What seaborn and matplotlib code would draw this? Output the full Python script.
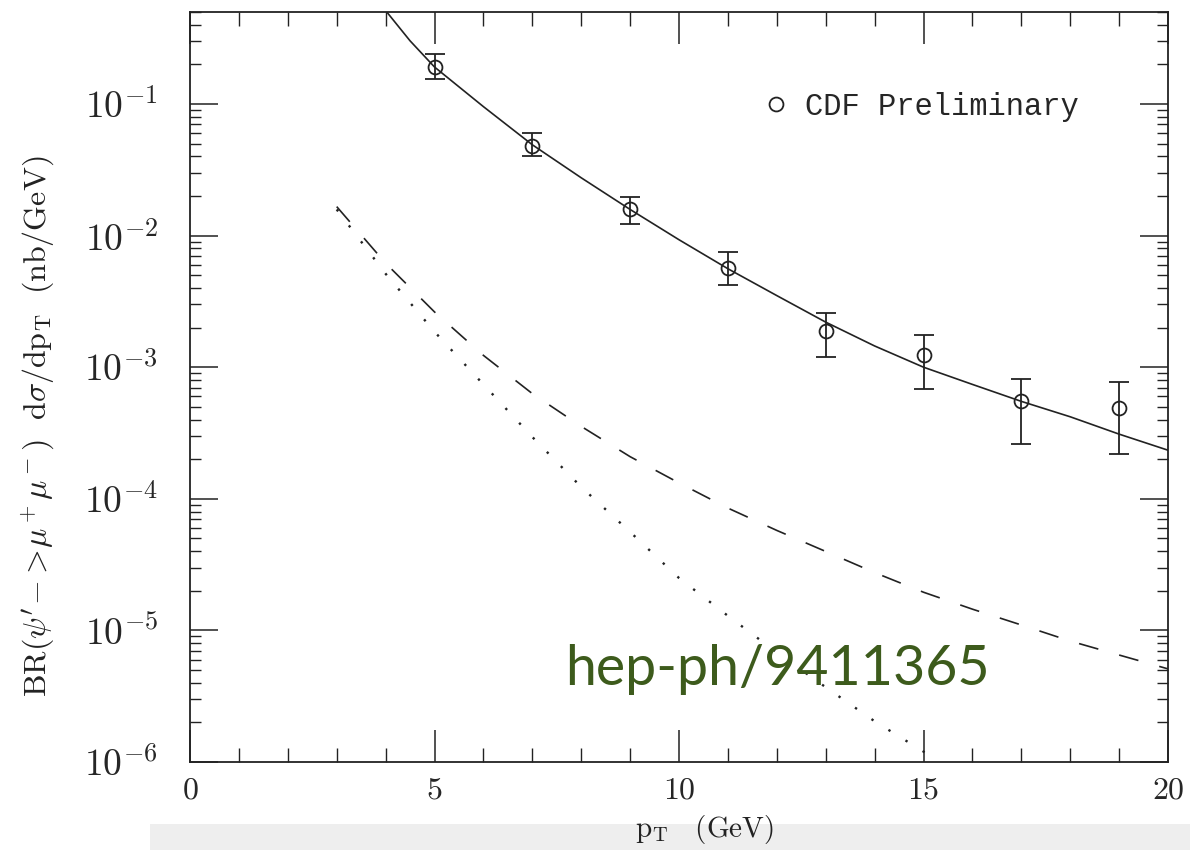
import numpy as np
import pandas as pd
import matplotlib
matplotlib.use("Agg")
import matplotlib.pyplot as plt
import seaborn as sns
from matplotlib.ticker import MultipleLocator, LogLocator, FuncFormatter, NullFormatter
from matplotlib.lines import Line2D
from matplotlib.patches import Rectangle

# ---------------- data ----------------
pt_data = [5, 7, 9, 11, 13, 15, 17, 19]
sigma_data = [0.19, 0.048, 0.0158, 0.0057, 0.0019, 0.00123, 0.00055, 0.00049]
sigma_hi = [0.24, 0.060, 0.0196, 0.0075, 0.0026, 0.00175, 0.00081, 0.00077]
sigma_lo = [0.155, 0.040, 0.0122, 0.0042, 0.00119, 0.00068, 0.00026, 0.00022]

solid_pt = [3.9, 4.0, 4.5, 5, 6, 7, 8, 9, 10, 11, 12, 13, 14, 15, 16, 17, 18, 19, 20]
solid_val = [0.62, 0.513, 0.302, 0.191, 0.0955, 0.049, 0.0275, 0.0158, 0.0093, 0.0056,
             0.0035, 0.0022, 0.00145, 0.00100, 0.00074, 0.00055, 0.00042, 0.00031, 0.000234]

dashed_pt = [3, 4, 5, 6, 7, 8, 9, 10, 11, 12, 13, 14, 15, 16, 17, 18, 19, 20]
dashed_val = [0.0166, 0.00617, 0.00263, 0.00123, 0.00063, 0.000355, 0.000209, 0.000132,
              8.5e-5, 5.75e-5, 3.98e-5, 2.75e-5, 1.95e-5, 1.45e-5, 1.10e-5, 8.3e-6, 6.5e-6, 5.1e-6]

dotted_pt = [3, 4, 5, 6, 7, 8, 9, 10, 11, 12, 13, 14, 15, 15.3]
dotted_val = [0.0158, 0.00513, 0.00186, 0.00074, 0.000295, 0.000123, 5.6e-5, 2.5e-5,
              1.29e-5, 6.8e-6, 3.7e-6, 2.04e-6, 1.2e-6, 1.0e-6]

legend_label = "CDF Preliminary"
watermark = "hep-ph/9411365"

# ---------------- style ----------------
sns.set_style("ticks")
plt.rcParams["font.family"] = ["DejaVu Serif", "DejaVu Sans"]
plt.rcParams["mathtext.fontset"] = "cm"

fig = plt.figure(figsize=(11.9, 8.5), dpi=100)
ax = fig.add_axes([190 / 1190, 1 - 762 / 850, (1168 - 190) / 1190, (762 - 12) / 850])
ax.set_facecolor("white")

df_solid = pd.DataFrame({"pt": solid_pt, "val": solid_val})
df_dash = pd.DataFrame({"pt": dashed_pt, "val": dashed_val})
df_dot = pd.DataFrame({"pt": dotted_pt, "val": dotted_val})

sns.lineplot(data=df_solid, x="pt", y="val", ax=ax, color="#222222", lw=1.2, sort=False)
sns.lineplot(data=df_dash, x="pt", y="val", ax=ax, color="#222222", lw=1.2, sort=False,
             linestyle=(0, (12, 13)))
sns.lineplot(data=df_dot, x="pt", y="val", ax=ax, color="#222222", lw=1.7, sort=False,
             linestyle=(0, (1, 7.5)))

yerr = [np.array(sigma_data) - np.array(sigma_lo), np.array(sigma_hi) - np.array(sigma_data)]
ax.errorbar(pt_data, sigma_data, yerr=yerr, fmt="o", mfc="none", mec="#222222",
            ms=10, mew=1.3, ecolor="#222222", elinewidth=1.3, capsize=7, capthick=1.3, zorder=5)

ax.set_yscale("log")
ax.set_xlim(0, 20)
ax.set_ylim(1e-6, 0.5)
ax.set_xlabel("")
ax.set_ylabel("")

ax.xaxis.set_major_locator(MultipleLocator(5))
ax.xaxis.set_minor_locator(MultipleLocator(1))
ax.yaxis.set_major_locator(LogLocator(base=10, numticks=12))
ax.yaxis.set_minor_locator(LogLocator(base=10, subs=np.arange(2, 10), numticks=30))
ax.yaxis.set_minor_formatter(NullFormatter())
ax.xaxis.set_major_formatter(FuncFormatter(lambda v, p: rf"${int(round(v))}$"))
ax.yaxis.set_major_formatter(FuncFormatter(lambda v, p: rf"$10^{{{int(round(np.log10(v)))}}}$"))

ax.tick_params(which="both", direction="in", top=True, right=True, color="#222222")
ax.tick_params(axis="x", which="major", length=23, width=1.1, labelsize=23, pad=9)
ax.tick_params(axis="x", which="minor", length=10, width=1.0)
ax.tick_params(axis="y", which="major", length=20, width=1.1, labelsize=27, pad=23)
ax.tick_params(axis="y", which="minor", length=8, width=1.0)
for s in ax.spines.values():
    s.set_linewidth(1.3)
    s.set_color("#222222")

handle = Line2D([], [], marker="o", ls="none", mfc="none", mec="#222222", ms=10, mew=1.3)
leg = ax.legend([handle], [legend_label], loc="upper left", bbox_to_anchor=(0.555, 0.93),
                frameon=False, handletextpad=0.45, handlelength=1.0,
                prop={"family": "Liberation Mono", "size": 22})

# bottom page shadow band
fig.patches.append(Rectangle((150 / 1190, 0), 1 - 150 / 1190, 26 / 850, transform=fig.transFigure,
                             facecolor="#eeeeee", edgecolor="none", zorder=0))

fig.text(38 / 1190, 1 - 426 / 850,
         r"$\mathrm{BR}(\psi^{\prime}\!-\!>\!\mu^+\mu^-)\ \ \mathrm{d}\sigma/\mathrm{dp}_\mathrm{T}\ \ (\mathrm{nb/GeV})$",
         rotation=90, ha="center", va="center", fontsize=23, color="#222222")
fig.text(705 / 1190, 1 - 829 / 850, r"$\mathrm{p}_\mathrm{T}\ \ \ (\mathrm{GeV})$",
         ha="center", va="center", fontsize=21, color="#222222", zorder=3)

fig.text(565 / 1190, 1 - 685 / 850, watermark, color="#3d5b1c", fontsize=40,
         family=["Lato", "DejaVu Sans"], ha="left", va="baseline", zorder=10)

fig.savefig("out.png", dpi=100, facecolor="white")
